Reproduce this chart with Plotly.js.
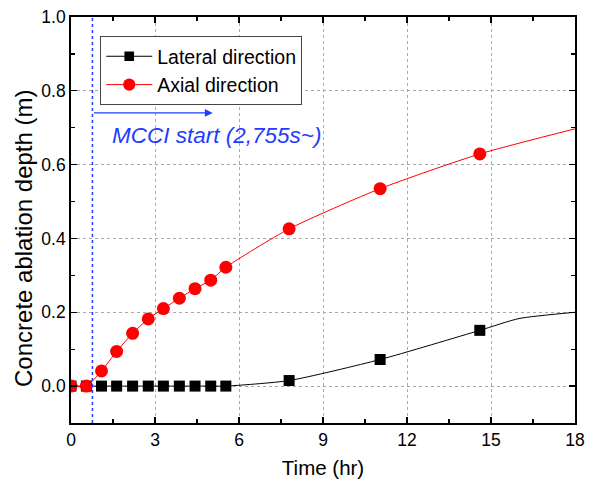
<!DOCTYPE html>
<html>
<head>
<meta charset="utf-8">
<script src="https://cdn.plot.ly/plotly-3.0.1.min.js"></script>
<style>html,body{margin:0;padding:0;background:#fff}#chart{width:597px;height:484px}</style>
</head>
<body>
<div id="chart"></div>
<script>
// Lateral direction (black squares)
const lateralTime  = [0, 0.55, 1.09, 1.63, 2.2, 2.76, 3.3, 3.87, 4.43, 4.99, 5.53, 7.79, 11.04, 14.6, 16.0, 18.0];
const lateralDepth = [0, 0, 0, 0, 0, 0, 0, 0, 0, 0, 0, 0.015, 0.072, 0.151, 0.183, 0.2];
const lateralMarked = [1, 1, 1, 1, 1, 1, 1, 1, 1, 1, 1, 1, 1, 1, 0, 0];
// Axial direction (red circles)
const axialTime  = [0, 0.55, 1.09, 1.63, 2.2, 2.76, 3.3, 3.87, 4.43, 4.99, 5.53, 7.79, 11.04, 14.6, 18.0];
const axialDepth = [0, 0, 0.041, 0.094, 0.143, 0.182, 0.21, 0.238, 0.264, 0.287, 0.322, 0.426, 0.535, 0.629, 0.697];
const axialMarked = [1, 1, 1, 1, 1, 1, 1, 1, 1, 1, 1, 1, 1, 1, 0];
// MCCI start
const mcciStart = 2755 / 3600;
const xTicks = [0, 3, 6, 9, 12, 15, 18];
const yTicks = [0.0, 0.2, 0.4, 0.6, 0.8, 1.0];

const traces = [
  {
    x: lateralTime, y: lateralDepth, mode: 'lines+markers', name: 'Lateral direction',
    line: {color: '#000', width: 1, shape: 'spline', smoothing: 0.6},
    marker: {symbol: 'square', color: '#000', opacity: 1, line: {width: 0},
             size: lateralMarked.map(m => m ? 11 : 0)},
  },
  {
    x: axialTime, y: axialDepth, mode: 'lines+markers', name: 'Axial direction',
    line: {color: '#ff0000', width: 1, shape: 'spline', smoothing: 0.6},
    marker: {symbol: 'circle', color: '#ff0000', opacity: 1, line: {width: 0},
             size: axialMarked.map(m => m ? 13 : 0)},
  }
];

const axisCommon = {
  showline: true, linecolor: '#000', linewidth: 1.8, mirror: 'ticks',
  ticks: 'inside', ticklen: 6, tickwidth: 1.3, tickcolor: '#000',
  showgrid: true, gridcolor: '#a8a8a8', griddash: '3px,3px', gridwidth: 1,
  zeroline: false,
  tickfont: {family: 'Liberation Sans, Arial, sans-serif', size: 17.5, color: '#000'},
};

const layout = {
  width: 597, height: 484,
  margin: {l: 71, r: 22, t: 17, b: 61},
  paper_bgcolor: '#fff', plot_bgcolor: '#fff',
  font: {family: 'Liberation Sans, Arial, sans-serif', color: '#000'},
  showlegend: true,
  legend: {
    x: 0.058, y: 0.953, xanchor: 'left', yanchor: 'top',
    bgcolor: '#fff', bordercolor: '#444', borderwidth: 1,
    font: {size: 19.5, color: '#000'}, tracegroupgap: 0, itemwidth: 46,
  },
  xaxis: Object.assign({}, axisCommon, {
    range: [0, 18], tickvals: xTicks, ticktext: xTicks.map(String),
    minor: {ticks: 'inside', ticklen: 4, tickcolor: '#000', dtick: 1.5, tick0: 0, showgrid: false},
    title: {text: 'Time (hr)', font: {size: 20.5}, standoff: 12},
  }),
  yaxis: Object.assign({}, axisCommon, {
    range: [-0.1, 1.0], tickvals: yTicks, ticktext: yTicks.map(v => v.toFixed(1)),
    minor: {ticks: 'inside', ticklen: 4, tickcolor: '#000', dtick: 0.1, tick0: 0, showgrid: false},
  }),
  shapes: [
    {type: 'line', xref: 'x', yref: 'paper', x0: mcciStart, x1: mcciStart, y0: 0, y1: 1,
     line: {color: '#1f3cff', width: 1.5, dash: 'dot'}}
  ],
  annotations: [
    {xref: 'paper', yref: 'paper', x: -0.093, y: 0.456, xanchor: 'center', yanchor: 'middle',
     textangle: -90, showarrow: false, text: 'Concrete ablation depth (m)',
     font: {size: 24, color: '#000'}},
    {xref: 'x', yref: 'y', axref: 'x', ayref: 'y', x: 5.06, y: 0.74, ax: mcciStart, ay: 0.74,
     text: '', showarrow: true, arrowhead: 2, arrowsize: 1.2, arrowwidth: 1.3, arrowcolor: '#1f3cff'},
    {xref: 'x', yref: 'y', x: 1.4, y: 0.68, xanchor: 'left', yanchor: 'middle', showarrow: false,
     text: '<i>MCCI start (2,755s~)</i>', font: {size: 22.5, color: '#1f3cff'}}
  ],
};

Plotly.newPlot('chart', traces, layout, {displayModeBar: false, staticPlot: true});
</script>
</body>
</html>
